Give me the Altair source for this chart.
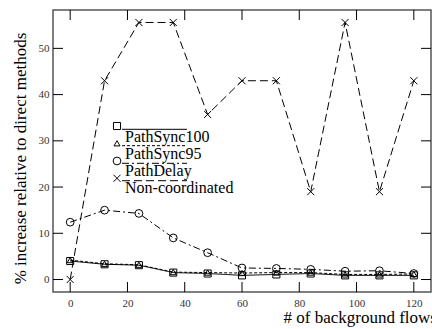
import altair as alt
import pandas as pd

flows = [0, 12, 24, 36, 48, 60, 72, 84, 96, 108, 120]
series_names = ["PathSync100", "PathSync95", "PathDelay", "Non-coordinated"]
pathsync100 = [4.0, 3.3, 3.1, 1.5, 1.3, 0.9, 1.1, 1.3, 0.9, 0.9, 0.9]
pathsync95 = [4.2, 3.4, 3.2, 1.6, 1.5, 1.4, 1.5, 1.5, 1.1, 1.1, 1.2]
pathdelay = [12.4, 15.0, 14.3, 9.0, 5.8, 2.5, 2.4, 2.2, 1.8, 1.9, 1.3]
noncoord = [0.0, 43.0, 55.6, 55.6, 35.7, 43.0, 43.0, 19.0, 55.6, 19.0, 43.0]
x_ticks = [0, 20, 40, 60, 80, 100, 120]
y_ticks = [0, 10, 20, 30, 40, 50]

values = [pathsync100, pathsync95, pathdelay, noncoord]
XPATH = "M-1,-1L1,1M1,-1L-1,1"
styles = [
    dict(shape="square", dash=[1, 0], size=50),
    dict(shape="triangle-up", dash=[3, 2], size=36),
    dict(shape="circle", dash=[7, 3, 2, 3], size=60),
    dict(shape=XPATH, dash=[8, 4], size=50),
]

W, H = 378, 282
FONT = "Liberation Serif"

xs = alt.Scale(domain=[-6, 126], nice=False, zero=False)
ys = alt.Scale(domain=[-2.7, 58.3], nice=False, zero=False)

axis_style = dict(
    ticks=False, domain=False, grid=False,
    labelFont=FONT, labelFontSize=11, labelColor="#333",
    titleFont=FONT, titleFontSize=17, titleFontWeight="normal", titleColor="black",
)

x_axis = alt.Axis(values=x_ticks, labelPadding=5, title="# of background flows",
                  titleAlign="left", titleX=230, titleY=30, titleBaseline="alphabetic",
                  **axis_style)
y_axis = alt.Axis(values=y_ticks, labelPadding=4,
                  title="% increase relative to direct methods",
                  titleAngle=270, titleAlign="center", titleX=-28, titleY=148,
                  titleBaseline="alphabetic", **axis_style)

# long table built from the arrays
rows = []
for name, vals in zip(series_names, values):
    for f, v in zip(flows, vals):
        rows.append({"flows": f, "value": v, "series": name})
data = pd.DataFrame(rows)

layers = []
# axis-owning invisible layer
layers.append(alt.Chart(data).mark_point(opacity=0).encode(
    x=alt.X("flows:Q", scale=xs, axis=x_axis),
    y=alt.Y("value:Q", scale=ys, axis=y_axis)))

for name, st in zip(series_names, styles):
    base = alt.Chart(data).transform_filter(alt.datum.series == name)
    layers.append(base.mark_line(color="black", strokeWidth=1, strokeDash=st["dash"]).encode(
        x=alt.X("flows:Q", scale=xs, axis=x_axis), y=alt.Y("value:Q", scale=ys, axis=y_axis)))
    layers.append(base.mark_point(shape=st["shape"], size=st["size"], filled=False,
                                  color="black", strokeWidth=1, opacity=1).encode(
        x=alt.X("flows:Q", scale=xs, axis=x_axis), y=alt.Y("value:Q", scale=ys, axis=y_axis)))

# inward ticks on all four sides
xt = pd.DataFrame({"t": x_ticks})
yt = pd.DataFrame({"t": y_ticks})
layers.append(alt.Chart(xt).mark_rule(color="black", strokeWidth=1).encode(
    x=alt.X("t:Q", scale=xs, axis=x_axis), y=alt.value(H), y2=alt.value(H - 10)))
layers.append(alt.Chart(xt).mark_rule(color="black", strokeWidth=1).encode(
    x=alt.X("t:Q", scale=xs, axis=x_axis), y=alt.value(0), y2=alt.value(10)))
layers.append(alt.Chart(yt).mark_rule(color="black", strokeWidth=1).encode(
    y=alt.Y("t:Q", scale=ys, axis=y_axis), x=alt.value(0), x2=alt.value(10)))
layers.append(alt.Chart(yt).mark_rule(color="black", strokeWidth=1).encode(
    y=alt.Y("t:Q", scale=ys, axis=y_axis), x=alt.value(W), x2=alt.value(W - 10)))

# legend
sym_y = [116, 133.3, 151, 168.3]
line_y = [119.3, 135.7, 153.3, 170.7]
text_y = [131.7, 148.7, 166, 182.7]
for i, (name, st) in enumerate(zip(series_names, styles)):
    ld = pd.DataFrame({"series": [name]})
    b = alt.Chart(ld)
    layers.append(b.mark_point(shape=st["shape"], size=st["size"], filled=False,
                               color="black", strokeWidth=1, opacity=1).encode(
        x=alt.value(64), y=alt.value(sym_y[i])))
    layers.append(b.mark_rule(color="black", strokeWidth=1, strokeDash=st["dash"]).encode(
        x=alt.value(69), x2=alt.value(134), y=alt.value(line_y[i])))
    layers.append(b.mark_text(font=FONT, fontSize=16, align="left", baseline="alphabetic",
                              color="black").encode(
        x=alt.value(72), y=alt.value(text_y[i]), text="series:N"))

chart = alt.layer(*layers).properties(
    width=W, height=H,
    autosize=alt.AutoSizeParams(type="none"),
    padding={"left": 53, "top": 10, "right": 1, "bottom": 37},
).configure(background="white", font=FONT).configure_view(
    stroke="#555", strokeWidth=1.5
).configure_axis(**axis_style)

chart.save("out.html", embed_options={"renderer": "svg", "actions": False})
